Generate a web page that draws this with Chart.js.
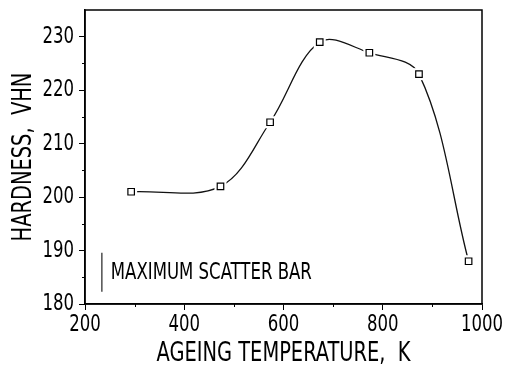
<!DOCTYPE html>
<html lang="en">
<head>
<meta charset="UTF-8">
<title>Hardness vs ageing temperature</title>
<script src="https://cdn.jsdelivr.net/npm/chart.js"></script>
<style>
  html, body { margin: 0; padding: 0; background: #fff; }
</style>
</head>
<body>
<canvas id="chart" width="508" height="370"></canvas>
<script>
// values
const temps = [293, 473, 573, 673, 773, 873, 973];
const hardness = [201, 202, 214, 229, 227, 223, 188];
const xTicks = [200, 400, 600, 800, 1000];
const xMinor = [300, 500, 700, 900];
const yTicks = [180, 190, 200, 210, 220, 230];
const yMinor = [185, 195, 205, 215, 225];
const barX = [234, 234];
const barY = [182.3, 189.6];
const noteText = 'MAXIMUM SCATTER BAR';
const noteAt = { x: 252, y: 184.6 };

const FONT = "'DejaVu Sans Condensed', sans-serif";
const SQUEEZE = 0.8; // the original lettering is narrower than any font we have

const points = temps.map((t, i) => ({ x: t, y: hardness[i] }));

// draw every text a bit narrower, about its own anchor
const narrowText = {
    id: 'narrowText',
    beforeDraw(chart) {
        const c = chart.ctx;
        if (c._plainFill) return;
        c._plainFill = c.fillText;
        c.fillText = function (t, x, y) {
            this.save();
            this.translate(x, y);
            this.scale(SQUEEZE, 1);
            this._plainFill(t, 0, 0);
            this.restore();
        };
    }
};

// box round the plot, minor ticks and the note
const extras = {
    id: 'extras',
    afterDraw(chart) {
        const c = chart.ctx, a = chart.chartArea;
        const xs = chart.scales.x, ys = chart.scales.y;
        c.save();
        c.strokeStyle = '#000';
        c.lineWidth = 1.5;
        c.strokeRect(a.left, a.top, a.right - a.left, a.bottom - a.top);
        c.lineWidth = 1;
        c.beginPath();
        xMinor.forEach(v => {
            const px = Math.round(xs.getPixelForValue(v)) + 0.5;
            c.moveTo(px, a.bottom);
            c.lineTo(px, a.bottom + 3);
        });
        yMinor.forEach(v => {
            const py = Math.round(ys.getPixelForValue(v)) + 0.5;
            c.moveTo(a.left, py);
            c.lineTo(a.left - 3, py);
        });
        c.stroke();
        c.fillStyle = '#000';
        c.font = '23px ' + FONT;
        c.textAlign = 'left';
        c.textBaseline = 'alphabetic';
        c.fillText(noteText, xs.getPixelForValue(noteAt.x), ys.getPixelForValue(noteAt.y));
        c.restore();
    }
};

new Chart(document.getElementById('chart'), {
    type: 'line',
    data: {
        datasets: [{
            // the curve
            data: points,
            borderColor: '#111',
            borderWidth: 1.3,
            tension: 0.35,
            pointRadius: 0,
            order: 3
        }, {
            // white space round each marker, as in the original
            data: points,
            showLine: false,
            pointStyle: 'rect',
            pointRadius: 8.5,
            pointBorderWidth: 0,
            pointBackgroundColor: '#fff',
            order: 2
        }, {
            data: points,
            showLine: false,
            pointStyle: 'rect',
            pointRadius: 4.6,
            pointBorderWidth: 1.2,
            pointBorderColor: '#000',
            pointBackgroundColor: '#fff',
            order: 1
        }, {
            // maximum scatter bar
            data: barX.map((x, i) => ({ x: x, y: barY[i] })),
            borderColor: '#333',
            borderWidth: 1.3,
            pointRadius: 0,
            order: 0
        }]
    },
    options: {
        responsive: false,
        devicePixelRatio: 1,
        animation: false,
        layout: { padding: { top: 10, right: 26, left: 0, bottom: 0 } },
        plugins: { legend: { display: false }, tooltip: { enabled: false } },
        scales: {
            x: {
                type: 'linear',
                min: 200,
                max: 1000,
                afterBuildTicks: s => { s.ticks = xTicks.map(v => ({ value: v })); },
                afterFit: s => { s.height = 66; s.paddingLeft = 0; s.paddingRight = 0; },
                grid: { drawOnChartArea: false, tickLength: 6, tickColor: '#000', tickWidth: 1 },
                border: { color: '#000', width: 1.5 },
                ticks: { color: '#000', font: { family: FONT, size: 23 }, padding: 1, maxRotation: 0, callback: v => String(v) },
                title: { display: true, text: 'AGEING TEMPERATURE,  K', color: '#000', font: { family: FONT, size: 27 }, padding: 0 }
            },
            y: {
                min: 180,
                max: 235,
                afterBuildTicks: s => { s.ticks = yTicks.map(v => ({ value: v })); },
                afterFit: s => { s.width = 85; s.paddingTop = 0; s.paddingBottom = 0; },
                grid: { drawOnChartArea: false, tickLength: 6, tickColor: '#000', tickWidth: 1 },
                border: { color: '#000', width: 1.5 },
                ticks: { color: '#000', font: { family: FONT, size: 23 }, padding: 5, callback: v => String(v) },
                title: { display: true, text: 'HARDNESS,  VHN', color: '#000', font: { family: FONT, size: 27 }, padding: { top: 8, bottom: 0 } }
            }
        }
    },
    plugins: [narrowText, extras]
});
</script>
</body>
</html>
